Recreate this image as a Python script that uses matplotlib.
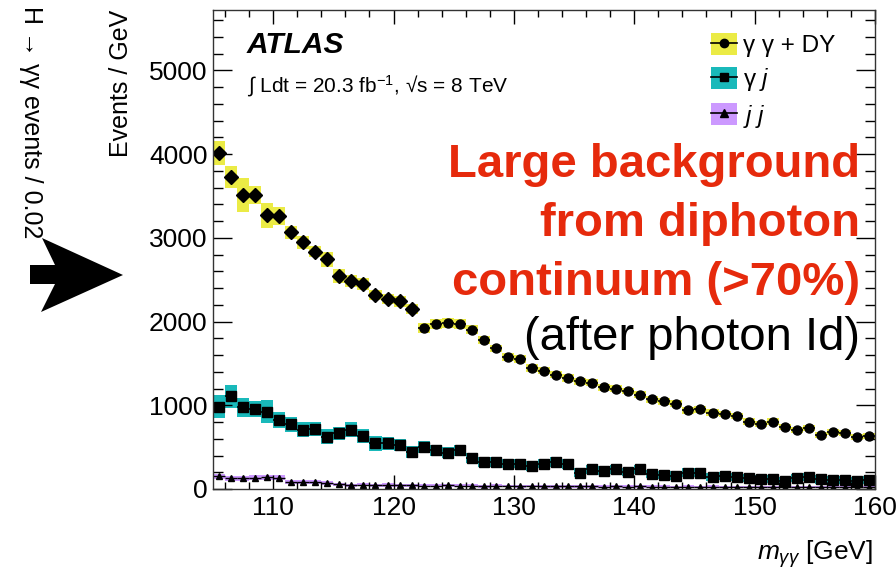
import numpy as np
import matplotlib
matplotlib.use("Agg")
import matplotlib.pyplot as plt
from matplotlib.patches import Patch, Polygon
from matplotlib.lines import Line2D
from matplotlib.ticker import MultipleLocator

plt.rcParams['font.family'] = ['Liberation Sans', 'DejaVu Sans']
plt.rcParams['mathtext.fontset'] = 'custom'
plt.rcParams['mathtext.rm'] = 'Liberation Sans'
plt.rcParams['mathtext.it'] = 'Liberation Sans:italic'

# 1 GeV bins from 105 to 160 GeV
bin_edges = np.arange(105, 161, 1)
bin_centers = bin_edges[:-1] + 0.5

# gamma gamma + DY
yy_vals = [4010, 3730, 3510, 3510, 3270, 3260, 3065, 2945, 2835, 2745,
           2545, 2480, 2450, 2320, 2270, 2240, 2150,
           1920, 1975, 1980, 1975, 1900, 1780, 1680, 1575, 1550,
           1445, 1415, 1365, 1325, 1285, 1270,
           1215, 1200, 1170, 1125, 1070, 1045, 1020, 940, 950, 910,
           895, 875, 805, 775, 805, 740, 705, 725, 645, 685, 665, 620, 635]
yy_err = [145, 130, 200, 110, 150, 110, 80, 80, 70, 90,
          80, 70, 70, 60, 60, 70, 60,
          60, 60, 60, 60, 55, 50, 45, 45, 45,
          45, 45, 45, 45, 45, 45,
          40, 40, 40, 40, 40, 40, 40, 40, 40, 40,
          38, 38, 38, 38, 38, 36, 36, 36, 36, 35, 35, 35, 35]

# gamma j
yj_vals = [985, 1105, 975, 955, 925, 825, 775, 705, 715, 625,
           665, 705, 635, 545, 545, 525, 445, 500, 465, 435,
           465, 365, 325, 325, 300, 300, 275, 300, 320, 300,
           195, 235, 220, 235, 205, 235, 180, 165, 160, 195,
           195, 145, 155, 140, 135, 120, 120, 90, 130, 145,
           115, 110, 110, 90, 110]
yj_err = [140, 140, 110, 100, 140, 100, 90, 90, 80, 90,
          80, 90, 80, 90, 80, 70, 70, 70, 65, 65,
          65, 60, 60, 60, 55, 55, 55, 55, 60, 60,
          55, 55, 55, 55, 50, 50, 50, 50, 50, 50,
          50, 50, 50, 50, 50, 50, 50, 50, 50, 50,
          50, 50, 50, 50, 50]

# j j
jj_vals = [155, 128, 128, 135, 139, 135, 88, 87, 88, 75,
           55, 45, 50, 45, 48, 42, 45, 40, 38, 42,
           40, 38, 35, 38, 35, 33, 35, 32, 33, 30,
           32, 30, 28, 30, 28, 30, 27, 28, 26, 28,
           25, 27, 25, 26, 24, 25, 23, 25, 24, 22,
           24, 23, 22, 23, 22]
jj_err = [30, 30, 30, 30, 30, 30, 25, 25, 25, 25,
          20, 20, 20, 20, 20, 20, 20, 18, 18, 18,
          18, 18, 18, 18, 16, 16, 16, 16, 16, 16,
          15, 15, 15, 15, 15, 15, 15, 15, 15, 15,
          15, 15, 15, 15, 15, 15, 15, 15, 15, 15,
          15, 15, 15, 15, 15]

n_diamond = 17  # left part of the yy series is drawn with diamonds

yellow = '#EBEB45'
cyan = '#19B9BA'
violet = '#CC99FF'
red = '#E62A0C'

W, H = 896, 572
fig = plt.figure(figsize=(W / 100, H / 100), dpi=100)
ax = fig.add_axes([213 / W, 1 - 489 / H, (875 - 213) / W, (489 - 10) / H])

yy = np.array(yy_vals)
yj = np.array(yj_vals)
jj = np.array(jj_vals)
yye = np.array(yy_err)
yje = np.array(yj_err)
jje = np.array(jj_err)

# uncertainty bands
ax.bar(bin_centers, 2 * jje, bottom=jj - jje, width=1.0, color=violet, linewidth=0)
ax.bar(bin_centers, 2 * yje, bottom=yj - yje, width=1.0, color=cyan, linewidth=0)
ax.bar(bin_centers, 2 * yye, bottom=yy - yye, width=1.0, color=yellow, linewidth=0)

# points
ax.errorbar(bin_centers, jj, xerr=0.5, yerr=jje, fmt='^', color='black',
            ms=5, elinewidth=1, capsize=0, ls='none')
ax.errorbar(bin_centers, yj, xerr=0.5, fmt='s', color='black',
            ms=6.5, elinewidth=1.2, capsize=0, ls='none')
ax.errorbar(bin_centers[:n_diamond], yy[:n_diamond], xerr=0.5, yerr=55,
            fmt='D', color='black', ms=7.5, elinewidth=1.2, capsize=0, ls='none')
ax.errorbar(bin_centers[n_diamond:], yy[n_diamond:], xerr=0.5, fmt='o',
            color='black', ms=6.5, elinewidth=1.2, capsize=0, ls='none')

ax.set_xlim(105, 160)
ax.set_ylim(0, 5720)
ax.xaxis.set_major_locator(MultipleLocator(10))
ax.xaxis.set_minor_locator(MultipleLocator(2))
ax.yaxis.set_major_locator(MultipleLocator(1000))
ax.yaxis.set_minor_locator(MultipleLocator(200))
ax.tick_params(which='both', direction='in', top=True, right=True, width=1,
               labelsize=19, colors='black')
ax.tick_params(axis='y', which='major', length=14, pad=4)
ax.tick_params(axis='y', which='minor', length=7)
ax.tick_params(axis='x', which='major', length=10, pad=5)
ax.tick_params(axis='x', which='minor', length=5)
for s in ax.spines.values():
    s.set_linewidth(1.0)
    s.set_color('#333333')

# legend
h_yy = (Patch(facecolor=yellow, edgecolor='none'),
        Line2D([], [], color='black', marker='o', ms=6, lw=1.2))
h_yj = (Patch(facecolor=cyan, edgecolor='none'),
        Line2D([], [], color='black', marker='s', ms=6, lw=1.2))
h_jj = (Patch(facecolor=violet, edgecolor='none'),
        Line2D([], [], color='black', marker='^', ms=6, lw=1.2))
fig.legend([h_yy, h_yj, h_jj],
           ['γ γ + DY', r'γ $j$', r'$j$ $j$'],
           loc='upper left', bbox_to_anchor=(711 / W, 1 - 33 / H),
           frameon=False, fontsize=17.5, handlelength=1.05, handleheight=1.0,
           handletextpad=0.25, labelspacing=0.38, borderpad=0, borderaxespad=0)

# labels
fig.text(247 / W, 1 - 53 / H, 'ATLAS', fontsize=21.5, weight='bold',
         style='italic', va='baseline')
fig.text(247 / W, 1 - 92 / H, r'∫ Ldt = 20.3 fb$^{-1}$, √s = 8 TeV',
         fontsize=15, va='baseline')
fig.text(121 / W, 1 - 10 / H, 'Events / GeV', rotation=90, fontsize=18,
         ha='center', va='top')
fig.text(873 / W, 1 - 560 / H, r'$m_{\gamma\gamma}$ [GeV]', fontsize=19,
         ha='right', va='baseline')
fig.text(31 / W, 1 - 6 / H, 'H → γγ events / 0.02', rotation=-90,
         fontsize=18, ha='center', va='top')

red_lines = ['Large background', 'from diphoton', 'continuum (>70%)']
for k, line in enumerate(red_lines):
    fig.text(860 / W, 1 - (177 + 59 * k) / H, line, color=red, fontsize=34,
             weight='bold', ha='right', va='baseline')
fig.text(860 / W, 1 - 350 / H, '(after photon Id)', color='black',
         fontsize=34, ha='right', va='baseline')

# big arrow on the left
arrow_px = [(30, 265), (55, 265), (42, 238), (123, 275), (41, 312),
            (55, 284), (30, 284)]
fig.patches.append(Polygon([(x / W, 1 - y / H) for x, y in arrow_px],
                           closed=True, facecolor='black', edgecolor='none',
                           transform=fig.transFigure, figure=fig))

fig.savefig('out.png', dpi=100)
